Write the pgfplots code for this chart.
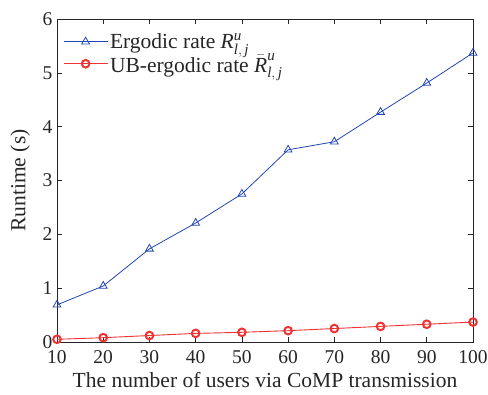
\documentclass[border=0pt]{standalone}
\usepackage{amsmath}
\usepackage{fontspec}
\setmainfont{Liberation Serif}
\usepackage{pgfplots}
\pgfplotsset{compat=1.18}
\begin{document}
\begin{tikzpicture}
\path[use as bounding box] (-57pt,-53pt) rectangle (431pt,342pt);
\begin{axis}[
  at={(0,0)}, anchor=south west,
  scale only axis,
  width=416pt, height=323pt,
  xmin=10, xmax=100, ymin=0, ymax=6,
  xtick={10,20,...,100}, ytick={0,1,...,6},
  tick align=inside,
  major tick length=5pt,
  tick style={black!85, line width=0.6pt},
  axis line style={black!85, line width=0.9pt},
  xlabel={The number of users via CoMP transmission},
  ylabel={Runtime (s)},
  label style={font=\fontsize{21.5}{24}\selectfont, text=black!85},
  tick label style={font=\fontsize{19.5}{22}\selectfont, text=black!85},
  /pgf/number format/assume math mode=true,
  legend style={at={(0.012,0.965)}, anchor=north west, draw=none, fill=none, font=\fontsize{21.5}{24}\selectfont, text=black!85, row sep=0pt, inner sep=1pt},
  legend cell align=left,
  legend image code/.code={\draw[mark repeat=2, mark phase=2, #1] plot coordinates {(0pt,0pt) (22pt,0pt) (44pt,0pt)};},
  ylabel style={yshift=6pt},
  xlabel style={yshift=-2pt},
  xticklabel style={yshift=-5pt},
  yticklabel style={xshift=-1pt},
]
\addplot[color={rgb,255:red,35;green,70;blue,180}, mark=triangle, mark size=4.5pt, line width=0.8pt] coordinates {
(10,0.69) (20,1.04) (30,1.73) (40,2.21) (50,2.75) (60,3.57) (70,3.72) (80,4.27) (90,4.81) (100,5.37)};
\addlegendentry{Ergodic rate \textit{R}$^{\textit{u}}_{\textit{l},\,\textit{j}}$}
\addplot[color={rgb,255:red,240;green,50;blue,50}, mark=o, mark size=3.8pt, line width=0.9pt, mark options={line width=2pt}] coordinates {
(10,0.05) (20,0.08) (30,0.12) (40,0.16) (50,0.18) (60,0.21) (70,0.25) (80,0.29) (90,0.33) (100,0.37)};
\addlegendentry{UB-ergodic rate $\bar{\textit{R}}^{\textit{u}}_{\textit{l},\,\textit{j}}$}
\end{axis}
\end{tikzpicture}
\end{document}
